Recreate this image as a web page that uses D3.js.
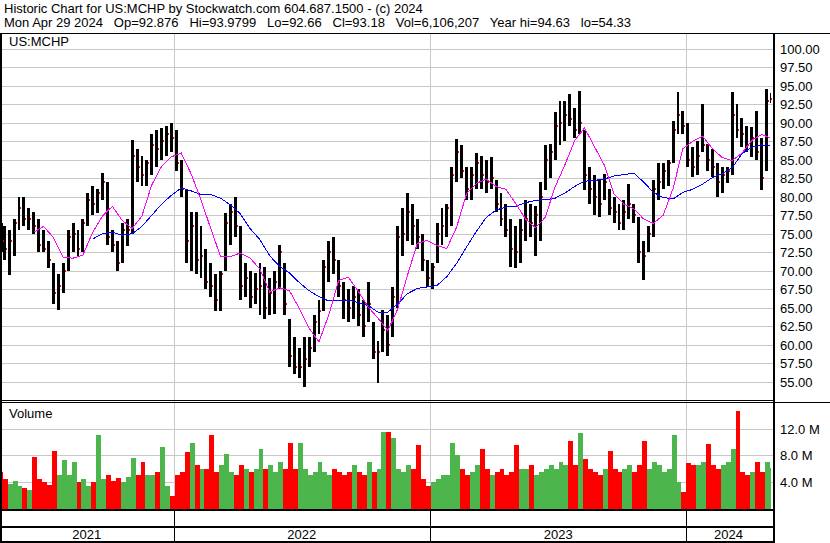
<!DOCTYPE html>
<html>
<head>
<meta charset="utf-8">
<script src="https://cdn.jsdelivr.net/npm/d3@7"></script>
<style>
body{margin:0;background:#fff}
svg{display:block;font-family:"Liberation Sans",Arial,sans-serif}
</style>
</head>
<body>
<div id="chart"></div>
<script>
// weekly bars, first week = week of Mon Apr 26 2021
var highs = [76.4,76,75.5,77,80,80,78.5,78,77,75.5, 74,71,69.5,71,75.5,76.4,75.5,77,80.5,81.4,
  81,83.2,82,75.5,74,76.4,77,87.7,86.5,85.5, 85,88.5,89,89.3,89.5,90,89,85,81,78,
  78,76,73,71,69.5,70,77.8,79,80,76, 71,70,69.7,71,70.5,69,70,73.5,71,63.5,
  61,59.5,61,61,64,66,71.5,74,74.6,71.5, 68.5,67.5,68,67.5,66,68.5,63,60.5,64.7,64,
  67.8,76,78.5,80.5,79,77,75,71.5,71,76.5, 78.5,79,84,87.8,87,84,84,85.9,85.5,85,
  85.4,82.3,80.5,79,77,76,77,79.5,79,78.7, 82,87,87.2,91.4,93,93,93.9,92,94.3,89,
  84,83,82.2,83.1,81,80,79,79.5,81.7,79, 77.3,74,76,82.2,84.5,84.5,85,90.3,94.1,91.6,
  90,86.7,87.5,92.6,87.2,86.5,84.5,84,84,94.1, 92.5,90.7,89.5,89.4,91.6,88,94.6,93.98];
var lows = [72.5,71.5,69.4,72,75.5,76,75.5,75,72.5,72.5, 70.3,65.5,64.7,67,70,72.5,72,72.5,76,77.5,
  77.8,79.5,73.5,72.5,69.9,71,73.3,75,82,81.5, 81.4,83,84,85,85.5,86,83.5,80,71,70,
  69.5,69,67.5,66.5,64.5,64.5,70,73.5,74.5,66, 66.5,65,65.5,64,63.5,64,64.2,67.5,64,57,
  56,55.5,54.3,57,59,61.5,64.5,68.5,69.5,66.5, 63.5,63,63.5,62.5,61,63,58,54.8,59,58.5,
  61,65,72,74,73.5,73,70,67.8,67.5,71, 73.5,74.5,76,82,82.5,79.5,79.5,81,81,80.5,
  81,78,76,74.5,70.5,70.3,71,74,74.5,72, 74,80.9,82.5,85,87,87.5,89.5,88,88.5,80.9,
  79,77.5,77.3,79.5,77.5,76.5,75.5,75.5,77,76.5, 71,68.8,72.5,74.5,79.5,81,81.5,84.5,88.5,88.5,
  84,82.7,83,86,83.5,82.7,80,80.5,81.8,83, 88,86.7,86,85.4,85,80.9,83.5,92.66];
var closes = [74,73,74,76.5,78.5,77,77,76,73.5,73, 71.5,67,68,70,74.5,75,73,76.5,79.5,79,
  80.5,82,74.5,73.5,71,75.5,75.5,85.5,84,83, 84.5,87,86.5,87.5,88.5,88,84.5,81,74,76,
  71.5,72,68.5,68,66,69.5,76.5,78,76,68, 69,66.5,67.5,68,65,67,68.5,72.5,65.5,58.5,
  57,57,58,59.5,63,64.5,70.5,72.5,71.5,68, 66,65,66.5,64,62.5,65.5,59,59,62,60,
  66.5,74.5,75,78,76,74.5,71.5,69,70.5,75, 76,78.5,83,86,83.5,81,83,84.5,83,82,
  82.5,79,77,75.5,73,72.5,75.5,77,76.5,77.5, 80,85,86,89.5,90,91,90.5,89,90,83,
  81,80,79,82,78.5,78,76.5,78,79,77.5, 72.5,72,75,81,82,83.5,84.5,89,91,89.5,
  85,84,85.5,87,85,84,82,83,83.5,91, 89,88.5,87,88,86,82.5,93,93.18];
// volume in millions
var volumes = [5.5,4.5,3.8,4.2,3.5,3.2,2.8,7.8,4.5,4.0, 3.6,8.7,5.0,7.3,5.0,7.0,4.0,4.5,3.5,4.0,
  11.1,4.5,5.0,4.2,4.6,4.0,4.8,7.6,5.0,7.0, 5.0,5.0,5.5,9.2,3.5,2.0,5.0,5.5,8.5,9.9,
  6.5,6.0,6.0,11.0,5.5,6.5,8.2,5.5,5.0,6.5, 6.0,5.5,6.0,8.9,6.0,6.5,5.5,7.0,6.0,9.8,
  6.0,9.8,6.0,5.0,5.5,7.0,5.5,5.0,6.0,5.5, 5.0,5.5,6.5,5.5,5.0,7.0,5.5,6.0,11.5,11.5,
  10.6,6.0,5.5,6.5,6.0,9.5,4.5,3.5,4.0,4.5, 5.0,5.0,9.9,8.0,6.0,5.0,5.5,6.5,9.0,6.0,
  5.0,5.5,6.0,5.0,5.5,9.6,6.0,6.0,6.5,5.0, 5.5,6.0,6.5,6.0,7.0,6.5,10.1,6.5,11.4,7.5,
  6.0,5.5,5.0,6.0,8.7,6.0,5.5,6.0,6.5,5.5, 6.5,10.1,6.0,7.0,6.5,5.5,6.0,11.0,4.0,2.5,
  6.8,6.6,6.5,7.0,9.7,6.5,6.0,6.5,7.0,9.0, 14.6,5.5,5.0,5.5,7.0,5.5,7.0,6.1];

// moving averages, read every second week
var maFastStart = 7;
var maFast = [75.2,76.0,74.5,71.8,71.7,72.1,75.2,77.4,78.7,76.8,
  75.7,77.4,81.6,84.1,85.4,85.9,83.1,79.6,75.7,71.9,
  71.9,72.4,71.7,70.2,67.1,67.7,67.3,64.9,62.2,60.4,
  64.0,68.7,69.1,67.2,65.1,63.6,61.9,64.8,69.4,73.7,
  74.1,73.4,73.0,75.9,80.4,81.8,82.4,81.4,81.0,79.1,
  77.0,75.8,77.2,81.3,84.3,87.6,89.3,86.8,84.3,80.4,
  79.0,78.4,77.0,76.4,77.5,81.1,86.5,87.5,88.2,86.5,
  85.3,84.9,85.9,87.6,88.4,88.0];
var maSlowStart = 19;
var maSlow = [74.3,75.0,75.2,74.8,75.0,76.0,77.5,79.0,80.2,81.2,
  80.8,80.3,80.3,79.8,78.9,77.7,75.7,74.2,72.0,70.6,
  69.7,68.4,67.3,66.5,65.9,66.0,66.0,65.7,65.3,64.4,
  64.4,65.5,66.9,67.6,67.8,68.0,69.2,71.0,73.2,75.3,
  77.2,78.2,78.6,78.7,79.2,79.5,79.6,79.8,80.5,81.4,
  82.1,82.2,82.4,82.8,83.0,83.2,82.0,80.6,79.9,79.7,
  80.6,81.0,81.7,82.6,83.1,83.9,85.8,86.7,87.0,86.9];

var priceTicks = [55,57.5,60,62.5,65,67.5,70,72.5,75,77.5,80,82.5,85,87.5,90,92.5,95,97.5,100];
var volTicks = [4,8,12];
var years = ["2021","2022","2023","2024"];

var title1 = "Historic Chart for US:MCHP by Stockwatch.com 604.687.1500 - (c) 2024";
var title2 = ["Mon Apr 29 2024","Op=92.876","Hi=93.9799","Lo=92.66","Cl=93.18","Vol=6,106,207","Year hi=94.63","lo=54.33"];

var W = 830, H = 543;
var startDate = new Date(2021,3,29), endDate = new Date(2024,3,29);
var firstMonday = new Date(2021,3,26);
var dayAfterEnd = d3.timeDay.offset(endDate, 1);

var x = d3.scaleTime().domain([startDate, endDate]).range([0, 770]);
var y = d3.scaleLinear().domain([55, 100]).range([381.66, 48.83]);
var yv = d3.scaleLinear().domain([0, 12]).range([509, 428.5]);

var svg = d3.select("#chart").append("svg").attr("width", W).attr("height", H);

//slot of one week: x from its monday to the next monday
function weekGeom(i){
  var mon = d3.timeDay.offset(firstMonday, 7*i);
  var next = d3.min([d3.timeDay.offset(mon, 7), dayAfterEnd]);
  var x0 = Math.max(2, Math.round(x(mon)));
  var w = Math.max(1, Math.round(x(next)) - x0);
  return {x: x0, w: w};
}
function sampleDate(k){
  var d = d3.timeDay.offset(firstMonday, 7*k + 2);
  return d > endDate ? endDate : d;
}

// grid lines
var grid = svg.append("g").attr("stroke", "#c8c8c8").attr("shape-rendering", "crispEdges");
grid.selectAll(".pg").data(priceTicks).enter().append("line")
  .attr("x1", 2).attr("x2", 773)
  .attr("y1", function(d){return Math.round(y(d)) + 0.5;})
  .attr("y2", function(d){return Math.round(y(d)) + 0.5;});
grid.selectAll(".vg").data(volTicks).enter().append("line")
  .attr("x1", 2).attr("x2", 773)
  .attr("y1", function(d){return Math.round(yv(d)) + 0.5;})
  .attr("y2", function(d){return Math.round(yv(d)) + 0.5;});

var yearStarts = years.slice(1).map(function(s){ return new Date(+s, 0, 1); });
grid.selectAll(".yg").data(yearStarts).enter().append("line")
  .attr("x1", function(d){return Math.round(x(d)) + 0.5;})
  .attr("x2", function(d){return Math.round(x(d)) + 0.5;})
  .attr("y1", 34).attr("y2", 509);

// volume
var vol = svg.append("g").attr("shape-rendering", "crispEdges");
vol.selectAll("rect").data(volumes).enter().append("rect")
  .attr("x", function(d,i){return weekGeom(i).x;})
  .attr("width", function(d,i){return weekGeom(i).w;})
  .attr("y", function(d){return Math.round(yv(d));})
  .attr("height", function(d){return Math.round(yv(0)) - Math.round(yv(d));})
  .attr("fill", function(d,i){
    if(i == 0) return "#ff0000";
    return closes[i] >= closes[i-1] ? "#4cb64c" : "#ff0000";
  });

// price bars, thinner than the slot so the band is not too heavy
var bars = svg.append("g").attr("shape-rendering", "crispEdges");
bars.selectAll("rect").data(highs).enter().append("rect")
  .attr("x", function(d,i){return weekGeom(i).x;})
  .attr("width", function(d,i){return Math.max(1, weekGeom(i).w - 2);})
  .attr("y", function(d){return Math.round(y(d));})
  .attr("height", function(d,i){return Math.max(1, Math.round(y(lows[i])) - Math.round(y(d)));})
  .attr("fill", "#000");
bars.selectAll(".cl").data(closes).enter().append("rect")
  .attr("x", function(d,i){var g = weekGeom(i); return g.x + Math.max(1, g.w - 2);})
  .attr("width", 1).attr("height", 2)
  .attr("y", function(d){return Math.round(y(d)) - 1;})
  .attr("fill", "#ff0000");

// moving averages
var line = d3.line()
  .x(function(d){return x(d.date);})
  .y(function(d){return y(d.v);});
var fastPts = maFast.map(function(v,i){return {date: sampleDate(maFastStart + 2*i), v: v};});
var slowPts = maSlow.map(function(v,i){return {date: sampleDate(maSlowStart + 2*i), v: v};});
svg.append("path").datum(slowPts).attr("d", line)
  .attr("fill", "none").attr("stroke", "#0000ff").attr("stroke-width", 1)
  .attr("shape-rendering", "crispEdges");
svg.append("path").datum(fastPts).attr("d", line)
  .attr("fill", "none").attr("stroke", "#ff00ff").attr("stroke-width", 1)
  .attr("shape-rendering", "crispEdges");

// frame
var frame = svg.append("g").attr("fill", "#000").attr("shape-rendering", "crispEdges");
frame.append("rect").attr("x", 0).attr("y", 33).attr("width", W).attr("height", 1);
frame.append("rect").attr("x", 0).attr("y", 33).attr("width", 2).attr("height", 510);
frame.append("rect").attr("x", 773).attr("y", 33).attr("width", 2).attr("height", 510);
frame.append("rect").attr("x", 0).attr("y", 400).attr("width", 773).attr("height", 1);
frame.append("rect").attr("x", 0).attr("y", 402).attr("width", W).attr("height", 1);
frame.append("rect").attr("x", 0).attr("y", 509).attr("width", 775).attr("height", 2);
frame.append("rect").attr("x", 0).attr("y", 526).attr("width", 775).attr("height", 2);
frame.append("rect").attr("x", 0).attr("y", 541).attr("width", 775).attr("height", 2);
frame.selectAll(".yd").data(yearStarts).enter().append("rect")
  .attr("x", function(d){return Math.round(x(d));})
  .attr("y", 510).attr("width", 1).attr("height", 32);

// text
var txt = svg.append("g").attr("font-size", "13px").attr("fill", "#000");
txt.append("text").attr("x", 4).attr("y", 13).text(title1);
var t2 = txt.append("text").attr("x", 4).attr("y", 27).attr("xml:space", "preserve");
t2.text(title2.join("   "));
txt.append("text").attr("x", 9).attr("y", 46).text("US:MCHP");
txt.append("text").attr("x", 9).attr("y", 418).text("Volume");

txt.selectAll(".pl").data(priceTicks).enter().append("text")
  .attr("x", 780).attr("y", function(d){return Math.round(y(d)) + 5;})
  .text(function(d){return d.toFixed(2);});
txt.selectAll(".vl").data(volTicks).enter().append("text")
  .attr("x", 780).attr("y", function(d){return Math.round(yv(d)) + 5;})
  .text(function(d){return d.toFixed(1) + " M";});

var bounds = [startDate].concat(yearStarts).concat([dayAfterEnd]);
txt.selectAll(".yl").data(years).enter().append("text")
  .attr("text-anchor", "middle")
  .attr("x", function(d,i){return (Math.max(0, x(bounds[i])) + Math.min(773, x(bounds[i+1]))) / 2;})
  .attr("y", 539)
  .text(function(d){return d;});
</script>
</body>
</html>
